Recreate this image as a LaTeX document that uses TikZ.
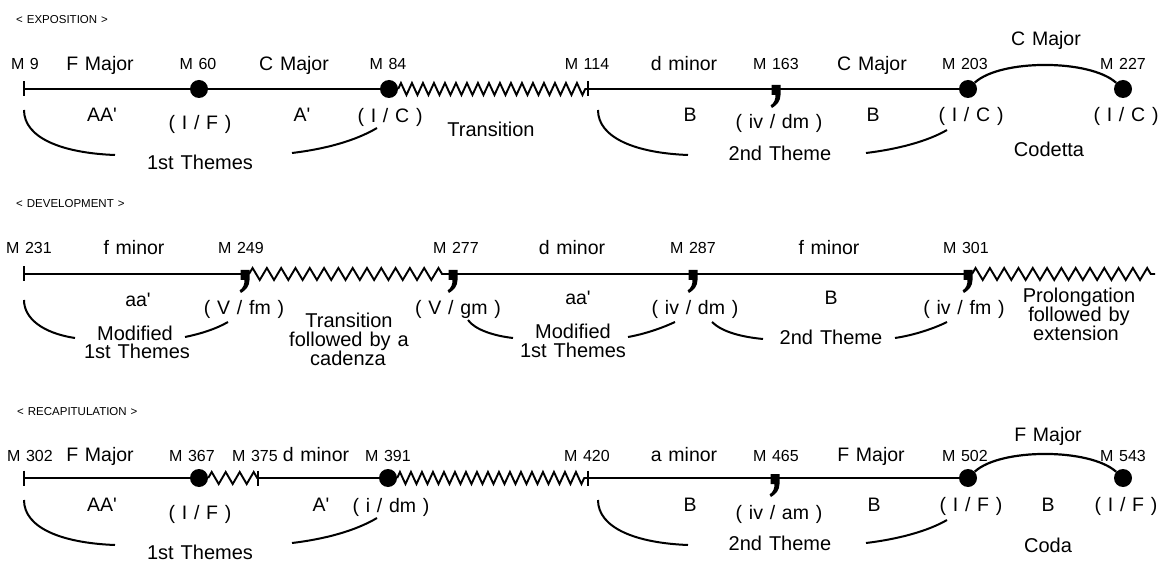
\documentclass[tikz,border=0pt]{standalone}
\usepackage{fontspec}
\setmainfont{Liberation Sans}[WordSpace=1.25]
\usetikzlibrary{decorations.pathmorphing}
\newcommand{\apos}{\textquotesingle}
\tikzset{
  tl/.style={line width=2.2pt},
  brk/.style={line width=2pt},
  zz/.style={line width=1.9pt, decorate, decoration={zigzag, segment length=#1, amplitude=6pt}},
  dotn/.style={circle, fill=black, inner sep=0pt, minimum size=18pt},
  mlab/.style={font=\fontsize{16}{16}\selectfont, anchor=base, inner sep=0pt},
  klab/.style={font=\fontsize{19.5}{19.5}\selectfont, anchor=base, inner sep=0pt},
  glab/.style={font=\fontsize{20}{20}\selectfont, anchor=base, inner sep=0pt},
  head/.style={font=\fontsize{11.5}{11.5}\selectfont, anchor=base west, inner sep=0pt},
  commamark/.pic={\fill (-4.5,-4) -- (4.5,-4) -- (4.5,6) .. controls (4.5,12) and (1,16) .. (-4,19) -- (-5.5,16.5) .. controls (-1.5,14) and (-0.5,10) .. (-0.5,6) -- (-4.5,6) -- cycle;},
  tickmark/.pic={\draw[line width=2pt] (0,-7.5) -- (0,7.5);}
}
\begin{document}
\begin{tikzpicture}[x=1pt,y=-1pt]
\useasboundingbox (0,0) rectangle (1159,561);
\fill[white] (0,0) rectangle (1159,561);

% ================= EXPOSITION =================
\node[head] (h1) at (16,24) {< EXPOSITION >};
\coordinate (t1a) at (24,89);
\coordinate (t1b) at (588,89);
\coordinate (c1a) at (776,89);
\node[dotn] (d1a) at (199,89) {};
\node[dotn] (d1b) at (389,89) {};
\node[dotn] (d1c) at (968,89) {};
\node[dotn] (d1d) at (1123,89) {};
\draw[tl] (t1a) -- (d1a) -- (d1b);
\draw[zz=11pt] (d1b.east) -- (t1b);
\draw[tl] (t1b) -- (d1c);
\draw[tl] (d1c) .. controls (1000,59) and (1090,59) .. (d1d);
\pic at (t1a) {tickmark};
\pic at (t1b) {tickmark};
\pic at (c1a) {commamark};

\node[mlab] (m9) at (25,70) {M 9};
\node[mlab] (m60) at (198,70) {M 60};
\node[mlab] (m84) at (388,70) {M 84};
\node[mlab] (m114) at (587,70) {M 114};
\node[mlab] (m163) at (776,70) {M 163};
\node[mlab] (m203) at (965,70) {M 203};
\node[mlab] (m227) at (1123,70) {M 227};
\node[klab] (k1a) at (100,71) {F Major};
\node[klab] (k1b) at (294,71) {C Major};
\node[klab] (k1c) at (684,71) {d minor};
\node[klab] (k1d) at (872,71) {C Major};
\node[klab] (k1e) at (1046,46) {C Major};

\node[klab] (b1a) at (102,122) {AA\apos};
\node[klab] (b1b) at (200,130) {( I / F )};
\node[klab] (b1c) at (302,122) {A\apos};
\node[klab] (b1d) at (390,123) {( I / C )};
\node[glab] (b1e) at (491,137) {Transition};
\node[klab] (b1f) at (690,122) {B};
\node[klab] (b1g) at (779,129) {( iv / dm )};
\node[klab] (b1h) at (873,122) {B};
\node[klab] (b1i) at (971,122) {( I / C )};
\node[klab] (b1j) at (1126,122) {( I / C )};
\node[glab] (g1c) at (1049,157) {Codetta};
\node[glab] (g1a) at (200,170) {1st Themes};
\node[glab] (g1b) at (780,161) {2nd Theme};

\draw[brk] (24,110) .. controls (24,138) and (62,153) .. (115,155);
\draw[brk] (292,153) .. controls (325,149) and (355,141) .. (377,128);
\draw[brk] (598,110) .. controls (598,138) and (636,153) .. (688,155);
\draw[brk] (866,153) .. controls (899,149) and (928,141) .. (947,130);

% ================= DEVELOPMENT =================
\node[head] (h2) at (16,208) {< DEVELOPMENT >};
\coordinate (t2a) at (24,274);
\coordinate (c2a) at (245,274);
\coordinate (c2b) at (453,274);
\coordinate (c2c) at (693,274);
\coordinate (c2d) at (968,274);
\coordinate (e2) at (1155,274);
\draw[tl] (t2a) -- (c2a);
\draw[zz=14.3pt] ([xshift=4pt]c2a) -- ([xshift=-4pt]c2b);
\draw[tl] (c2b) -- (c2d);
\draw[zz=14.3pt] ([xshift=4pt]c2d) -- (e2);
\pic at (t2a) {tickmark};
\pic at (c2a) {commamark};
\pic at (c2b) {commamark};
\pic at (c2c) {commamark};
\pic at (c2d) {commamark};

\node[mlab] (m231) at (29,254) {M 231};
\node[mlab] (m249) at (241,254) {M 249};
\node[mlab] (m277) at (456,254) {M 277};
\node[mlab] (m287) at (693,254) {M 287};
\node[mlab] (m301) at (966,254) {M 301};
\node[klab] (k2a) at (134,255) {f minor};
\node[klab] (k2b) at (572,255) {d minor};
\node[klab] (k2c) at (829,255) {f minor};

\node[klab] (b2a) at (138,306) {aa\apos};
\node[klab] (b2b) at (244,315) {( V / fm )};
\node[glab] (b2c1) at (349,327) {Transition};
\node[glab] (b2c2) at (349,346) {followed by a};
\node[glab] (b2c3) at (348,365) {cadenza};
\node[klab] (b2d) at (458,314) {( V / gm )};
\node[klab] (b2e) at (578,305) {aa\apos};
\node[klab] (b2f) at (695,314) {( iv / dm )};
\node[klab] (b2g) at (831,305) {B};
\node[klab] (b2h) at (964,314) {( iv / fm )};
\node[glab] (b2i1) at (1079,302) {Prolongation};
\node[glab] (b2i2) at (1079,321) {followed by};
\node[glab] (b2i3) at (1076,340) {extension};
\node[glab] (g2a1) at (135,340) {Modified};
\node[glab] (g2a2) at (137,358) {1st Themes};
\node[glab] (g2b1) at (573,338) {Modified};
\node[glab] (g2b2) at (573,357) {1st Themes};
\node[glab] (g2c) at (831,344) {2nd Theme};

\draw[brk] (24,300) .. controls (24,318) and (42,333) .. (75,338);
\draw[brk] (185,337) .. controls (200,334) and (216,329) .. (228,322);
\draw[brk] (468,320) .. controls (475,330) and (495,336) .. (513,338);
\draw[brk] (628,337) .. controls (645,334) and (662,328) .. (675,322);
\draw[brk] (712,322) .. controls (722,332) and (742,337) .. (763,339);
\draw[brk] (895,338) .. controls (915,335) and (935,328) .. (947,322);

% ================= RECAPITULATION =================
\node[head] (h3) at (17,415) {< RECAPITULATION >};
\coordinate (t3a) at (24,478);
\coordinate (t3b) at (258,478);
\coordinate (t3c) at (588,478);
\coordinate (c3a) at (775,478);
\node[dotn] (d3a) at (199,478) {};
\node[dotn] (d3b) at (388,478) {};
\node[dotn] (d3c) at (968,478) {};
\node[dotn] (d3d) at (1123,478) {};
\draw[tl] (t3a) -- (d3a);
\draw[zz=14pt] (d3a.east) -- (t3b);
\draw[tl] (t3b) -- (d3b);
\draw[zz=11pt] (d3b.east) -- (t3c);
\draw[tl] (t3c) -- (d3c);
\draw[tl] (d3c) .. controls (1000,448) and (1090,448) .. (d3d);
\pic at (t3a) {tickmark};
\pic at (t3b) {tickmark};
\pic at (t3c) {tickmark};
\pic at (c3a) {commamark};

\node[mlab] (m302) at (30,461) {M 302};
\node[mlab] (m367) at (192,461) {M 367};
\node[mlab] (m375) at (255,461) {M 375};
\node[mlab] (m391) at (388,461) {M 391};
\node[mlab] (m420) at (587,461) {M 420};
\node[mlab] (m465) at (776,461) {M 465};
\node[mlab] (m502) at (965,461) {M 502};
\node[mlab] (m543) at (1123,461) {M 543};
\node[klab] (k3a) at (100,461) {F Major};
\node[klab] (k3b) at (316,461) {d minor};
\node[klab] (k3c) at (684,461) {a minor};
\node[klab] (k3d) at (871,461) {F Major};
\node[klab] (k3e) at (1048,441) {F Major};

\node[klab] (b3a) at (102,511) {AA\apos};
\node[klab] (b3b) at (200,519) {( I / F )};
\node[klab] (b3c) at (321,511) {A\apos};
\node[klab] (b3d) at (391,512) {( i / dm )};
\node[klab] (b3e) at (690,511) {B};
\node[klab] (b3f) at (779,519) {( iv / am )};
\node[klab] (b3g) at (874,511) {B};
\node[klab] (b3h) at (971,511) {( I / F )};
\node[klab] (b3i) at (1048,511) {B};
\node[klab] (b3j) at (1126,511) {( I / F )};
\node[glab] (g3c) at (1048,552) {Coda};
\node[glab] (g3b) at (780,550) {2nd Theme};
\node[glab] (g3a) at (200,559) {1st Themes};

\draw[brk] (24,500) .. controls (24,528) and (62,543) .. (115,545);
\draw[brk] (292,543) .. controls (325,539) and (355,531) .. (377,518);
\draw[brk] (598,500) .. controls (598,528) and (636,543) .. (688,545);
\draw[brk] (866,543) .. controls (899,539) and (928,531) .. (947,520);
\end{tikzpicture}
\end{document}
